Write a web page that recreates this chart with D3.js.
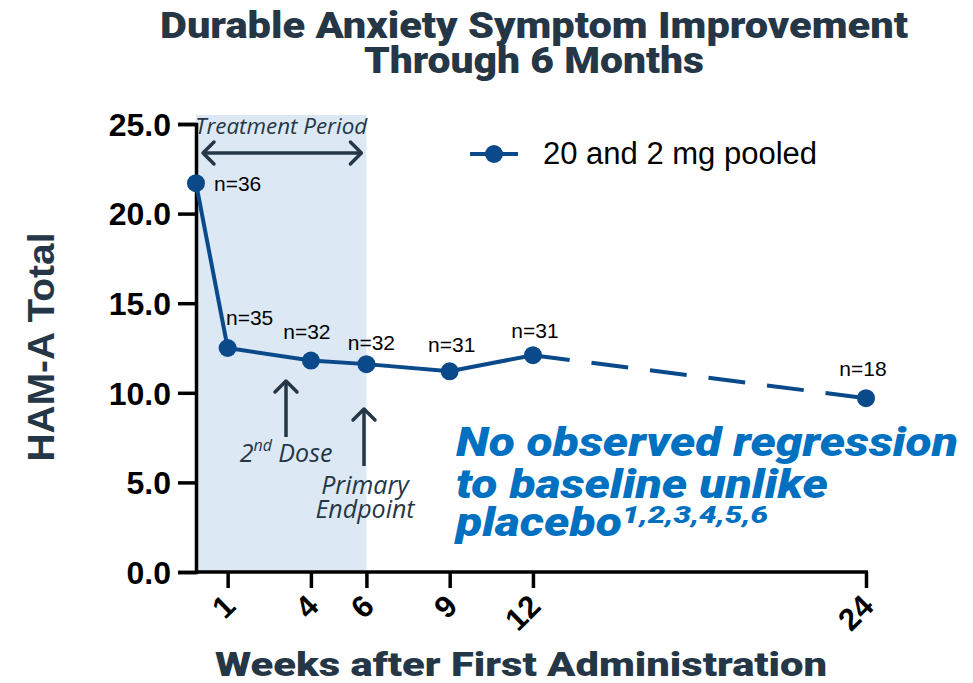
<!DOCTYPE html>
<html>
<head>
<meta charset="utf-8">
<script src="https://cdn.jsdelivr.net/npm/d3@7"></script>
<style>
  body { margin: 0; background: #fff; }
  svg { display: block; }
</style>
</head>
<body>
<div id="chart"></div>
<script>
// datos
const weeks = [-0.14, 1, 4, 6, 9, 12, 24];
const hamA = [21.7, 12.5, 11.8, 11.6, 11.2, 12.1, 9.7];
const nCounts = [36, 35, 32, 32, 31, 31, 18];
const tickWeeks = [1, 4, 6, 9, 12, 24];
const yTicks = [0, 5, 10, 15, 20, 25];
const treatmentEnd = 6;
const dashedFrom = 12;
const seriesName = "20 and 2 mg pooled";

// desplazamiento de las etiquetas n= respecto al punto
const nLabelOffset = [[18, 8, "start"], [22, -23], [-4, -22], [5, -14], [2, -19], [2, -17], [-3, -22]];

const width = 973, height = 683;
const navy = "#253746", blue = "#0a4a8a", callout = "#0070c0";

const svg = d3.select("#chart").append("svg")
    .attr("width", width)
    .attr("height", height);

const x = d3.scaleLinear().domain([-0.14, 24]).range([196, 866]);
const y = d3.scaleLinear().domain([0, 25]).range([572, 124]);

const data = weeks.map((w, i) => ({ week: w, value: hamA[i], n: nCounts[i] }));

// zona de tratamiento
svg.append("rect")
    .attr("x", x(-0.14))
    .attr("y", y(25.5))
    .attr("width", x(treatmentEnd) - x(-0.14))
    .attr("height", y(0) - y(25.5))
    .attr("fill", "#dce8f4");

// eje Y
const yAxis = svg.append("g")
    .attr("transform", `translate(${x(-0.14)},0)`)
    .call(d3.axisLeft(y).tickValues(yTicks).tickFormat(d3.format(".1f")).tickSize(18).tickPadding(7));
yAxis.select(".domain").attr("stroke", "#000").attr("stroke-width", 3.5);
yAxis.selectAll(".tick line").attr("stroke", "#000").attr("stroke-width", 3.5);
yAxis.selectAll(".tick text")
    .attr("fill", "#000")
    .attr("font-family", "Liberation Sans, Arial, sans-serif")
    .attr("font-weight", "bold")
    .attr("font-size", "32px")
    .attr("dy", "0.35em");

// eje X
const xAxis = svg.append("g")
    .attr("transform", `translate(0,${y(0)})`)
    .call(d3.axisBottom(x).tickValues(tickWeeks).tickSize(16).tickSizeOuter(0).tickFormat(d3.format("d")));
xAxis.select(".domain").attr("stroke", "#000").attr("stroke-width", 3.5)
    .attr("d", `M${x(-0.14)},0H${x(24) + 2}`);
xAxis.selectAll(".tick line").attr("stroke", "#000").attr("stroke-width", 3.5);
xAxis.selectAll(".tick text")
    .attr("fill", "#000")
    .attr("font-family", "Liberation Sans, Arial, sans-serif")
    .attr("font-weight", "bold")
    .attr("font-size", "31px")
    .attr("text-anchor", "end")
    .attr("y", 0)
    .attr("dy", 0)
    .attr("transform", "translate(9,36) rotate(-45)");

// linea solida hasta la semana 12 y discontinua despues
const line = d3.line().x(d => x(d.week)).y(d => y(d.value));
svg.append("path")
    .datum(data.filter(d => d.week <= dashedFrom))
    .attr("fill", "none")
    .attr("stroke", blue)
    .attr("stroke-width", 4)
    .attr("d", line);
svg.append("path")
    .datum(data.filter(d => d.week >= dashedFrom))
    .attr("fill", "none")
    .attr("stroke", blue)
    .attr("stroke-width", 4)
    .attr("stroke-dasharray", "37,22")
    .attr("d", line);

svg.selectAll("circle.pt")
    .data(data)
    .enter().append("circle")
    .attr("class", "pt")
    .attr("cx", d => x(d.week))
    .attr("cy", d => y(d.value))
    .attr("r", 9)
    .attr("fill", blue);

svg.selectAll("text.nlab")
    .data(data)
    .enter().append("text")
    .attr("class", "nlab")
    .attr("x", (d, i) => x(d.week) + nLabelOffset[i][0])
    .attr("y", (d, i) => y(d.value) + nLabelOffset[i][1])
    .attr("text-anchor", (d, i) => nLabelOffset[i][2] || "middle")
    .attr("font-family", "Liberation Sans, Arial, sans-serif")
    .attr("font-size", "21px")
    .attr("fill", "#000")
    .text(d => `n=${d.n}`);

// leyenda
const legend = svg.append("g").attr("transform", "translate(470,154)");
legend.append("line").attr("x1", 0).attr("x2", 48).attr("stroke", blue).attr("stroke-width", 4);
legend.append("circle").attr("cx", 24).attr("r", 9).attr("fill", blue);
legend.append("text")
    .attr("x", 73).attr("y", 10)
    .attr("font-family", "Liberation Sans, Arial, sans-serif")
    .attr("font-size", "31px")
    .attr("fill", "#000")
    .text(seriesName);

// titulo
const title = svg.append("text")
    .attr("text-anchor", "middle")
    .attr("font-family", "Roboto, sans-serif")
    .attr("font-weight", 900)
    .attr("font-size", "36px")
    .attr("fill", navy);
title.append("tspan").attr("x", 534).attr("y", 38)
    .attr("textLength", 748).attr("lengthAdjust", "spacingAndGlyphs")
    .text("Durable Anxiety Symptom Improvement");
title.append("tspan").attr("x", 534).attr("y", 73)
    .attr("textLength", 340).attr("lengthAdjust", "spacingAndGlyphs")
    .text("Through 6 Months");

// titulos de ejes
svg.append("text")
    .attr("transform", "translate(54,347) rotate(-90)")
    .attr("text-anchor", "middle")
    .attr("font-family", "Liberation Sans, Arial, sans-serif")
    .attr("font-weight", "bold")
    .attr("font-size", "37px")
    .attr("fill", navy)
    .attr("textLength", 229).attr("lengthAdjust", "spacingAndGlyphs")
    .text("HAM-A Total");

svg.append("text")
    .attr("x", 521).attr("y", 676)
    .attr("text-anchor", "middle")
    .attr("font-family", "Roboto, sans-serif")
    .attr("font-weight", 900)
    .attr("font-size", "34px")
    .attr("fill", navy)
    .attr("textLength", 612).attr("lengthAdjust", "spacingAndGlyphs")
    .text("Weeks after First Administration");

// anotaciones
const annFont = "'Open Sans', sans-serif";
svg.append("text")
    .attr("x", x(-0.14) + (x(treatmentEnd) - x(-0.14)) / 2).attr("y", 134)
    .attr("text-anchor", "middle")
    .attr("font-family", annFont)
    .attr("font-style", "italic")
    .attr("font-size", "21px")
    .attr("fill", navy)
    .attr("textLength", 172).attr("lengthAdjust", "spacingAndGlyphs")
    .text("Treatment Period");

function arrowHead(g, px, py, dir) {
    // dir: vector unitario hacia donde apunta
    const s = 11;
    const [dx, dy] = dir;
    const nx = -dy, ny = dx;
    g.append("path")
        .attr("d", `M${px - dx * s + nx * s},${py - dy * s + ny * s}L${px},${py}L${px - dx * s - nx * s},${py - dy * s - ny * s}`)
        .attr("fill", "none")
        .attr("stroke", navy)
        .attr("stroke-width", 3.5)
        .attr("stroke-linecap", "round")
        .attr("stroke-linejoin", "round");
}

const ann = svg.append("g");
ann.append("line")
    .attr("x1", x(-0.14) + 7).attr("x2", x(treatmentEnd) - 5)
    .attr("y1", 153).attr("y2", 153)
    .attr("stroke", navy).attr("stroke-width", 3.5);
arrowHead(ann, x(-0.14) + 7, 153, [-1, 0]);
arrowHead(ann, x(treatmentEnd) - 5, 153, [1, 0]);

// 2nd dose
ann.append("line").attr("x1", 286).attr("x2", 286).attr("y1", 381).attr("y2", 437)
    .attr("stroke", navy).attr("stroke-width", 3.5);
arrowHead(ann, 286, 381, [0, -1]);
const dose = ann.append("text")
    .attr("x", 286).attr("y", 462)
    .attr("text-anchor", "middle")
    .attr("font-family", annFont)
    .attr("font-style", "italic")
    .attr("font-size", "25px")
    .attr("fill", navy);
dose.append("tspan").text("2");
dose.append("tspan").attr("font-size", "16px").attr("dy", -11).text("nd");
dose.append("tspan").attr("dy", 11).text(" Dose");

// primary endpoint
ann.append("line").attr("x1", 364).attr("x2", 364).attr("y1", 409).attr("y2", 466)
    .attr("stroke", navy).attr("stroke-width", 3.5);
arrowHead(ann, 364, 409, [0, -1]);
const prim = ann.append("text")
    .attr("text-anchor", "middle")
    .attr("font-family", annFont)
    .attr("font-style", "italic")
    .attr("font-size", "25px")
    .attr("fill", navy);
prim.append("tspan").attr("x", 365).attr("y", 494).text("Primary");
prim.append("tspan").attr("x", 365).attr("y", 518).text("Endpoint");

// texto destacado
const co = svg.append("text")
    .attr("font-family", "Roboto, sans-serif")
    .attr("font-weight", 900)
    .attr("font-style", "italic")
    .attr("font-size", "40px")
    .attr("fill", callout);
co.append("tspan").attr("x", 456).attr("y", 456)
    .attr("textLength", 502).attr("lengthAdjust", "spacingAndGlyphs")
    .text("No observed regression");
co.append("tspan").attr("x", 456).attr("y", 498)
    .attr("textLength", 372).attr("lengthAdjust", "spacingAndGlyphs")
    .text("to baseline unlike");
const co3 = svg.append("text")
    .attr("font-family", "Roboto, sans-serif")
    .attr("font-weight", 900)
    .attr("font-style", "italic")
    .attr("font-size", "40px")
    .attr("fill", callout);
co3.append("tspan").attr("x", 456).attr("y", 536)
    .attr("textLength", 166).attr("lengthAdjust", "spacingAndGlyphs")
    .text("placebo");
co3.append("tspan").attr("font-size", "24px").attr("dy", -13)
    .attr("textLength", 146).attr("lengthAdjust", "spacingAndGlyphs")
    .text("1,2,3,4,5,6");
</script>
</body>
</html>
